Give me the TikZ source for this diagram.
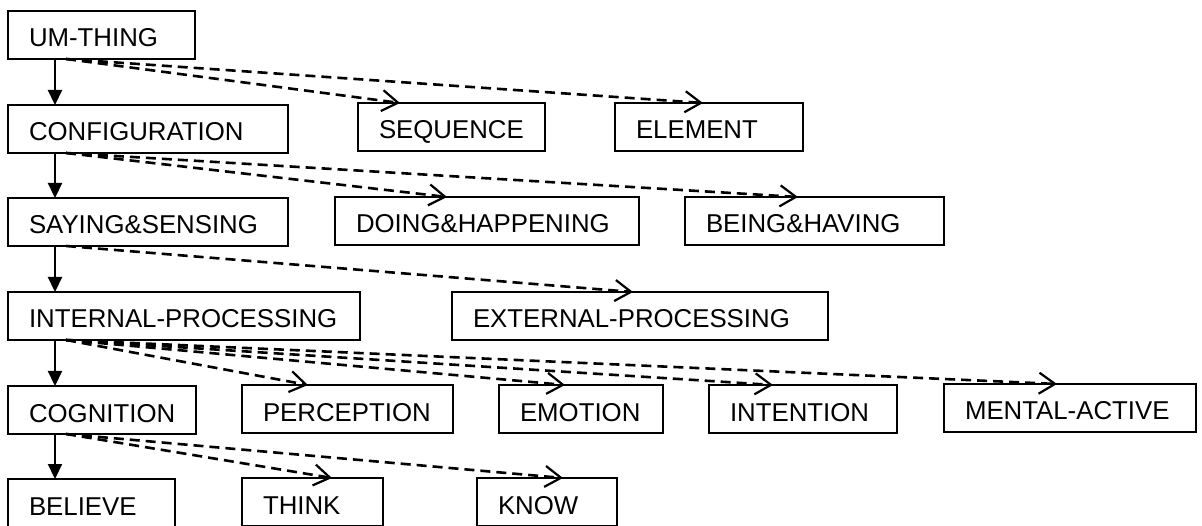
\documentclass[tikz,border=0pt]{standalone}
\usepackage{fontspec}
\setmainfont{Liberation Sans}
\usetikzlibrary{arrows.meta}
\begin{document}
\begin{tikzpicture}[x=1pt,y=-1pt,
  box/.style={draw, line width=2.2pt, anchor=north west, outer sep=0pt,
    inner xsep=21pt, inner ysep=12pt, text height=24pt, text depth=0pt,
    align=left, font=\fontsize{25.8pt}{30pt}\selectfont},
  isa/.style={line width=2.2pt, -{Triangle[length=15pt,width=14pt]}},
  sub/.style={line width=2.6pt, dash pattern=on 10pt off 6pt,
    -{Straight Barb[length=16pt,width=21pt,line width=2.2pt]}}]
\useasboundingbox (0,0) rectangle (1202,526);

% concept boxes, row by row
\node[box, text width=145pt] (um)     at (8,11)    {UM-THING};

\node[box, text width=238pt] (conf)   at (8,105)   {CONFIGURATION};
\node[box, text width=145pt] (seq)    at (358,103) {SEQUENCE};
\node[box, text width=146pt] (elem)   at (615,103) {ELEMENT};

\node[box, text width=238pt] (say)    at (8,198)   {SAYING\&SENSING};
\node[box, text width=262pt] (doing)  at (335,197) {DOING\&HAPPENING};
\node[box, text width=217pt] (being)  at (685,197) {BEING\&HAVING};

\node[box, text width=310pt] (int)    at (8,292)   {INTERNAL-PROCESSING};
\node[box, text width=334pt] (ext)    at (452,292) {EXTERNAL-PROCESSING};

\node[box, text width=146pt] (cog)    at (8,386)   {COGNITION};
\node[box, text width=169pt] (perc)   at (242,385) {PERCEPTION};
\node[box, text width=122pt] (emo)    at (499,385) {EMOTION};
\node[box, text width=146pt] (intent) at (709,385) {INTENTION};
\node[box, text width=210pt] (ment)   at (944,384) {MENTAL-ACTIVE};

\node[box, text width=125pt] (bel)    at (8,479)   {BELIEVE};
\node[box, text width=99pt]  (think)  at (242,478) {THINK};
\node[box, text width=98pt]  (know)   at (477,478) {KNOW};

% solid links down the left column
\draw[isa] ([xshift=47pt]um.south west)   -- ([xshift=47pt]conf.north west);
\draw[isa] ([xshift=47pt]conf.south west) -- ([xshift=47pt]say.north west);
\draw[isa] ([xshift=47pt]say.south west)  -- ([xshift=47pt]int.north west);
\draw[isa] ([xshift=47pt]int.south west)  -- ([xshift=47pt]cog.north west);
\draw[isa] ([xshift=47pt]cog.south west)  -- ([xshift=47pt]bel.north west);

% dashed links to the siblings
\draw[sub] ([xshift=58pt]um.south west)   -- ([xshift=42pt]seq.north west);
\draw[sub] ([xshift=58pt]um.south west)   -- ([xshift=88pt]elem.north west);
\draw[sub] ([xshift=58pt]conf.south west) -- ([xshift=112pt]doing.north west);
\draw[sub] ([xshift=58pt]conf.south west) -- ([xshift=113pt]being.north west);
\draw[sub] ([xshift=58pt]say.south west)  -- ([xshift=181pt]ext.north west);
\draw[sub] ([xshift=58pt]int.south west)  -- ([xshift=66pt]perc.north west);
\draw[sub] ([xshift=58pt]int.south west)  -- ([xshift=66pt]emo.north west);
\draw[sub] ([xshift=58pt]int.south west)  -- ([xshift=64pt]intent.north west);
\draw[sub] ([xshift=58pt]int.south west)  -- ([xshift=113pt]ment.north west);
\draw[sub] ([xshift=58pt]cog.south west)  -- ([xshift=90pt]think.north west);
\draw[sub] ([xshift=58pt]cog.south west)  -- ([xshift=86pt]know.north west);
\end{tikzpicture}
\end{document}
